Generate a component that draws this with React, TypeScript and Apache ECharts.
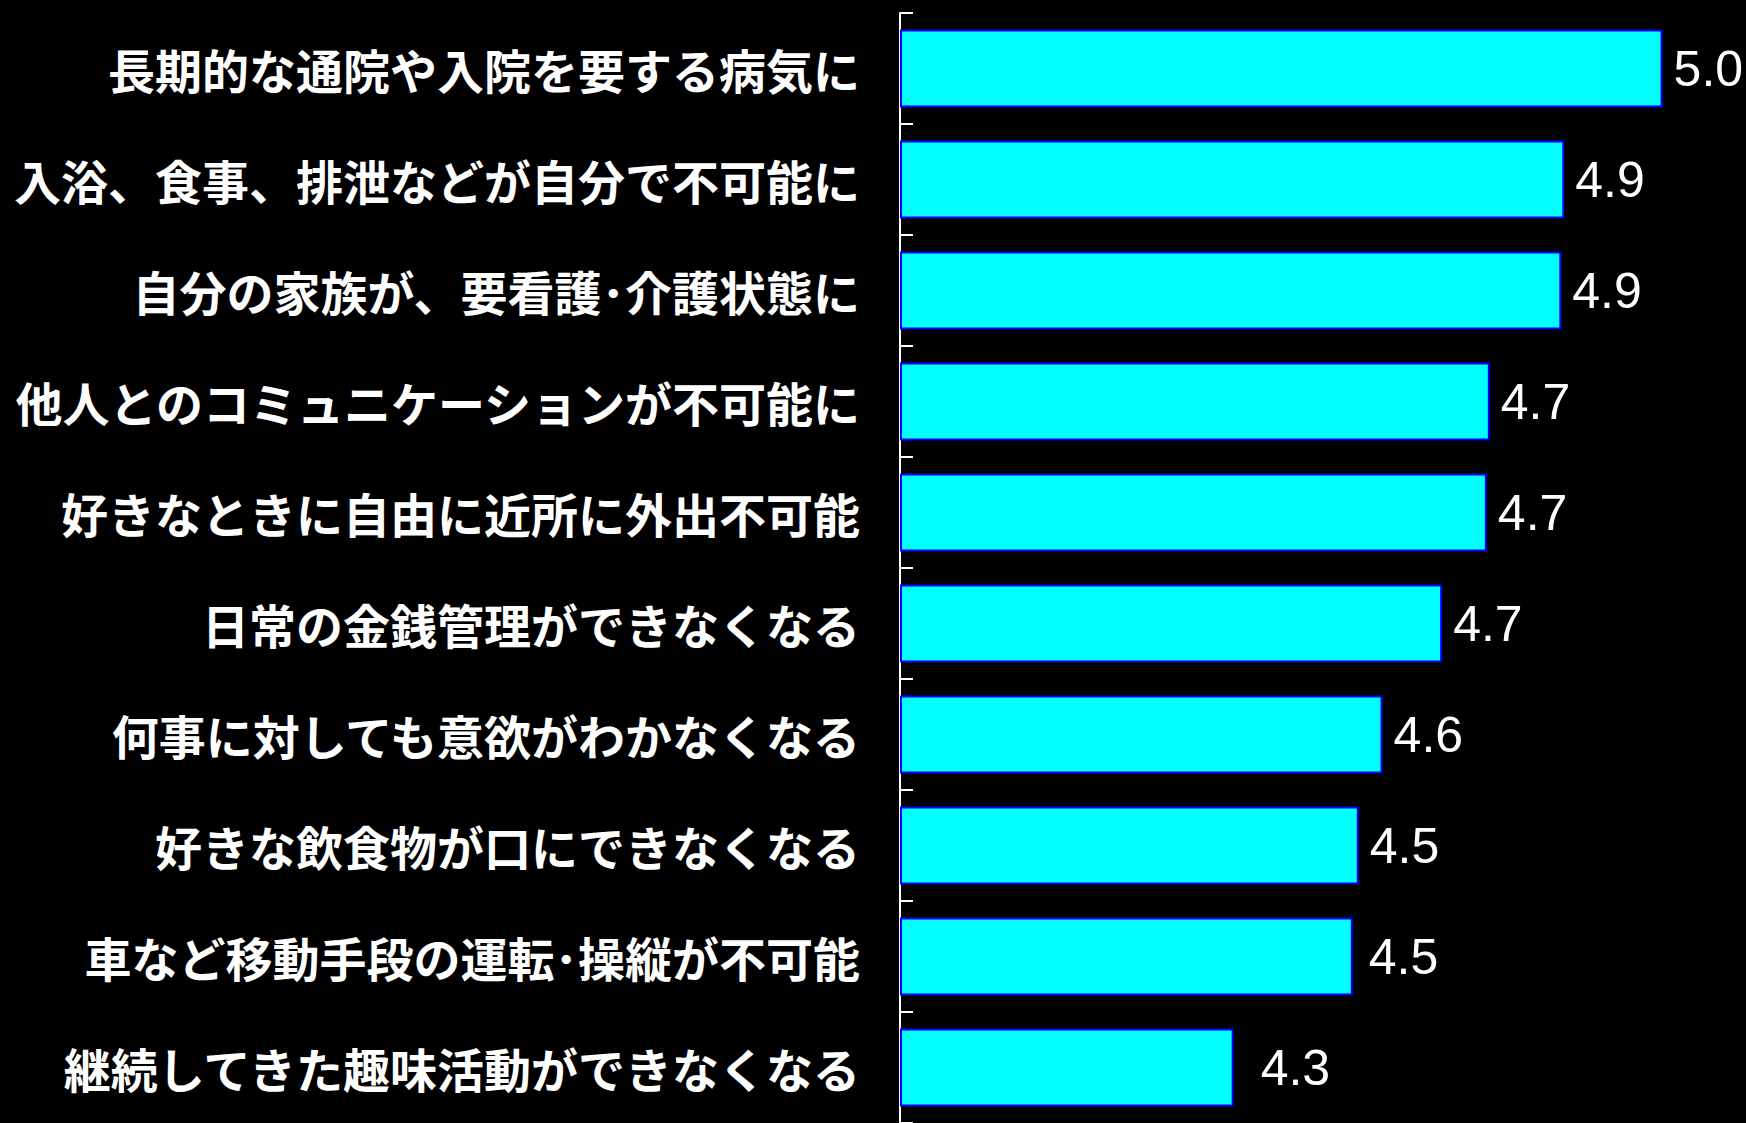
import React, { useEffect, useRef } from "react";
import * as echarts from "echarts";

const categories = [
  "長期的な通院や入院を要する病気に",
  "入浴、食事、排泄などが自分で不可能に",
  "自分の家族が、要看護･介護状態に",
  "他人とのコミュニケーションが不可能に",
  "好きなときに自由に近所に外出不可能",
  "日常の金銭管理ができなくなる",
  "何事に対しても意欲がわかなくなる",
  "好きな飲食物が口にできなくなる",
  "車など移動手段の運転･操縦が不可能",
  "継続してきた趣味活動ができなくなる",
];

const values = [5.03, 4.865, 4.86, 4.74, 4.735, 4.66, 4.56, 4.52, 4.51, 4.31];

const axisMin = 3.75;
const axisMax = 5.17;

export default function App() {
  const ref = useRef<HTMLDivElement>(null);

  useEffect(() => {
    document.body.style.margin = "0";
    document.body.style.background = "#000";
    if (!ref.current) return;
    const chart = echarts.init(ref.current, undefined, { renderer: "svg" });
    const labelGaps = [11, 11, 11, 11, 11, 11, 11, 11, 16, 27];
    chart.setOption({
      animation: false,
      backgroundColor: "#000000",
      grid: { left: 900, right: 0, top: 13, height: 1114 },
      xAxis: {
        type: "value",
        min: axisMin,
        max: axisMax,
        startValue: axisMin,
        show: false,
        splitLine: { show: false },
      },
      yAxis: {
        type: "category",
        inverse: true,
        data: categories,
        axisLine: { show: true, lineStyle: { color: "#ffffff", width: 2 } },
        axisTick: {
          show: true,
          inside: true,
          length: 13,
          lineStyle: { color: "#ffffff", width: 2 },
        },
        axisLabel: {
          color: "#ffffff",
          fontSize: 47,
          fontWeight: "bold",
          fontFamily: "Noto Sans CJK JP",
          margin: 40,
        },
      },
      series: [
        {
          type: "bar",
          barWidth: 78,
          clip: true,
          data: values.map((v, i) => ({
            value: v,
            label: { distance: labelGaps[i] },
          })),
          itemStyle: {
            color: "#00FFFF",
            borderColor: "#0000FF",
            borderWidth: 2,
          },
          label: {
            show: true,
            position: "right",
            color: "#ffffff",
            fontSize: 50,
            fontFamily: "Liberation Sans",
            formatter: (p: any) => Number(p.value).toFixed(1),
          },
        },
      ],
    });
    return () => chart.dispose();
  }, []);

  return <div ref={ref} style={{ width: 1746, height: 1123 }} />;
}
